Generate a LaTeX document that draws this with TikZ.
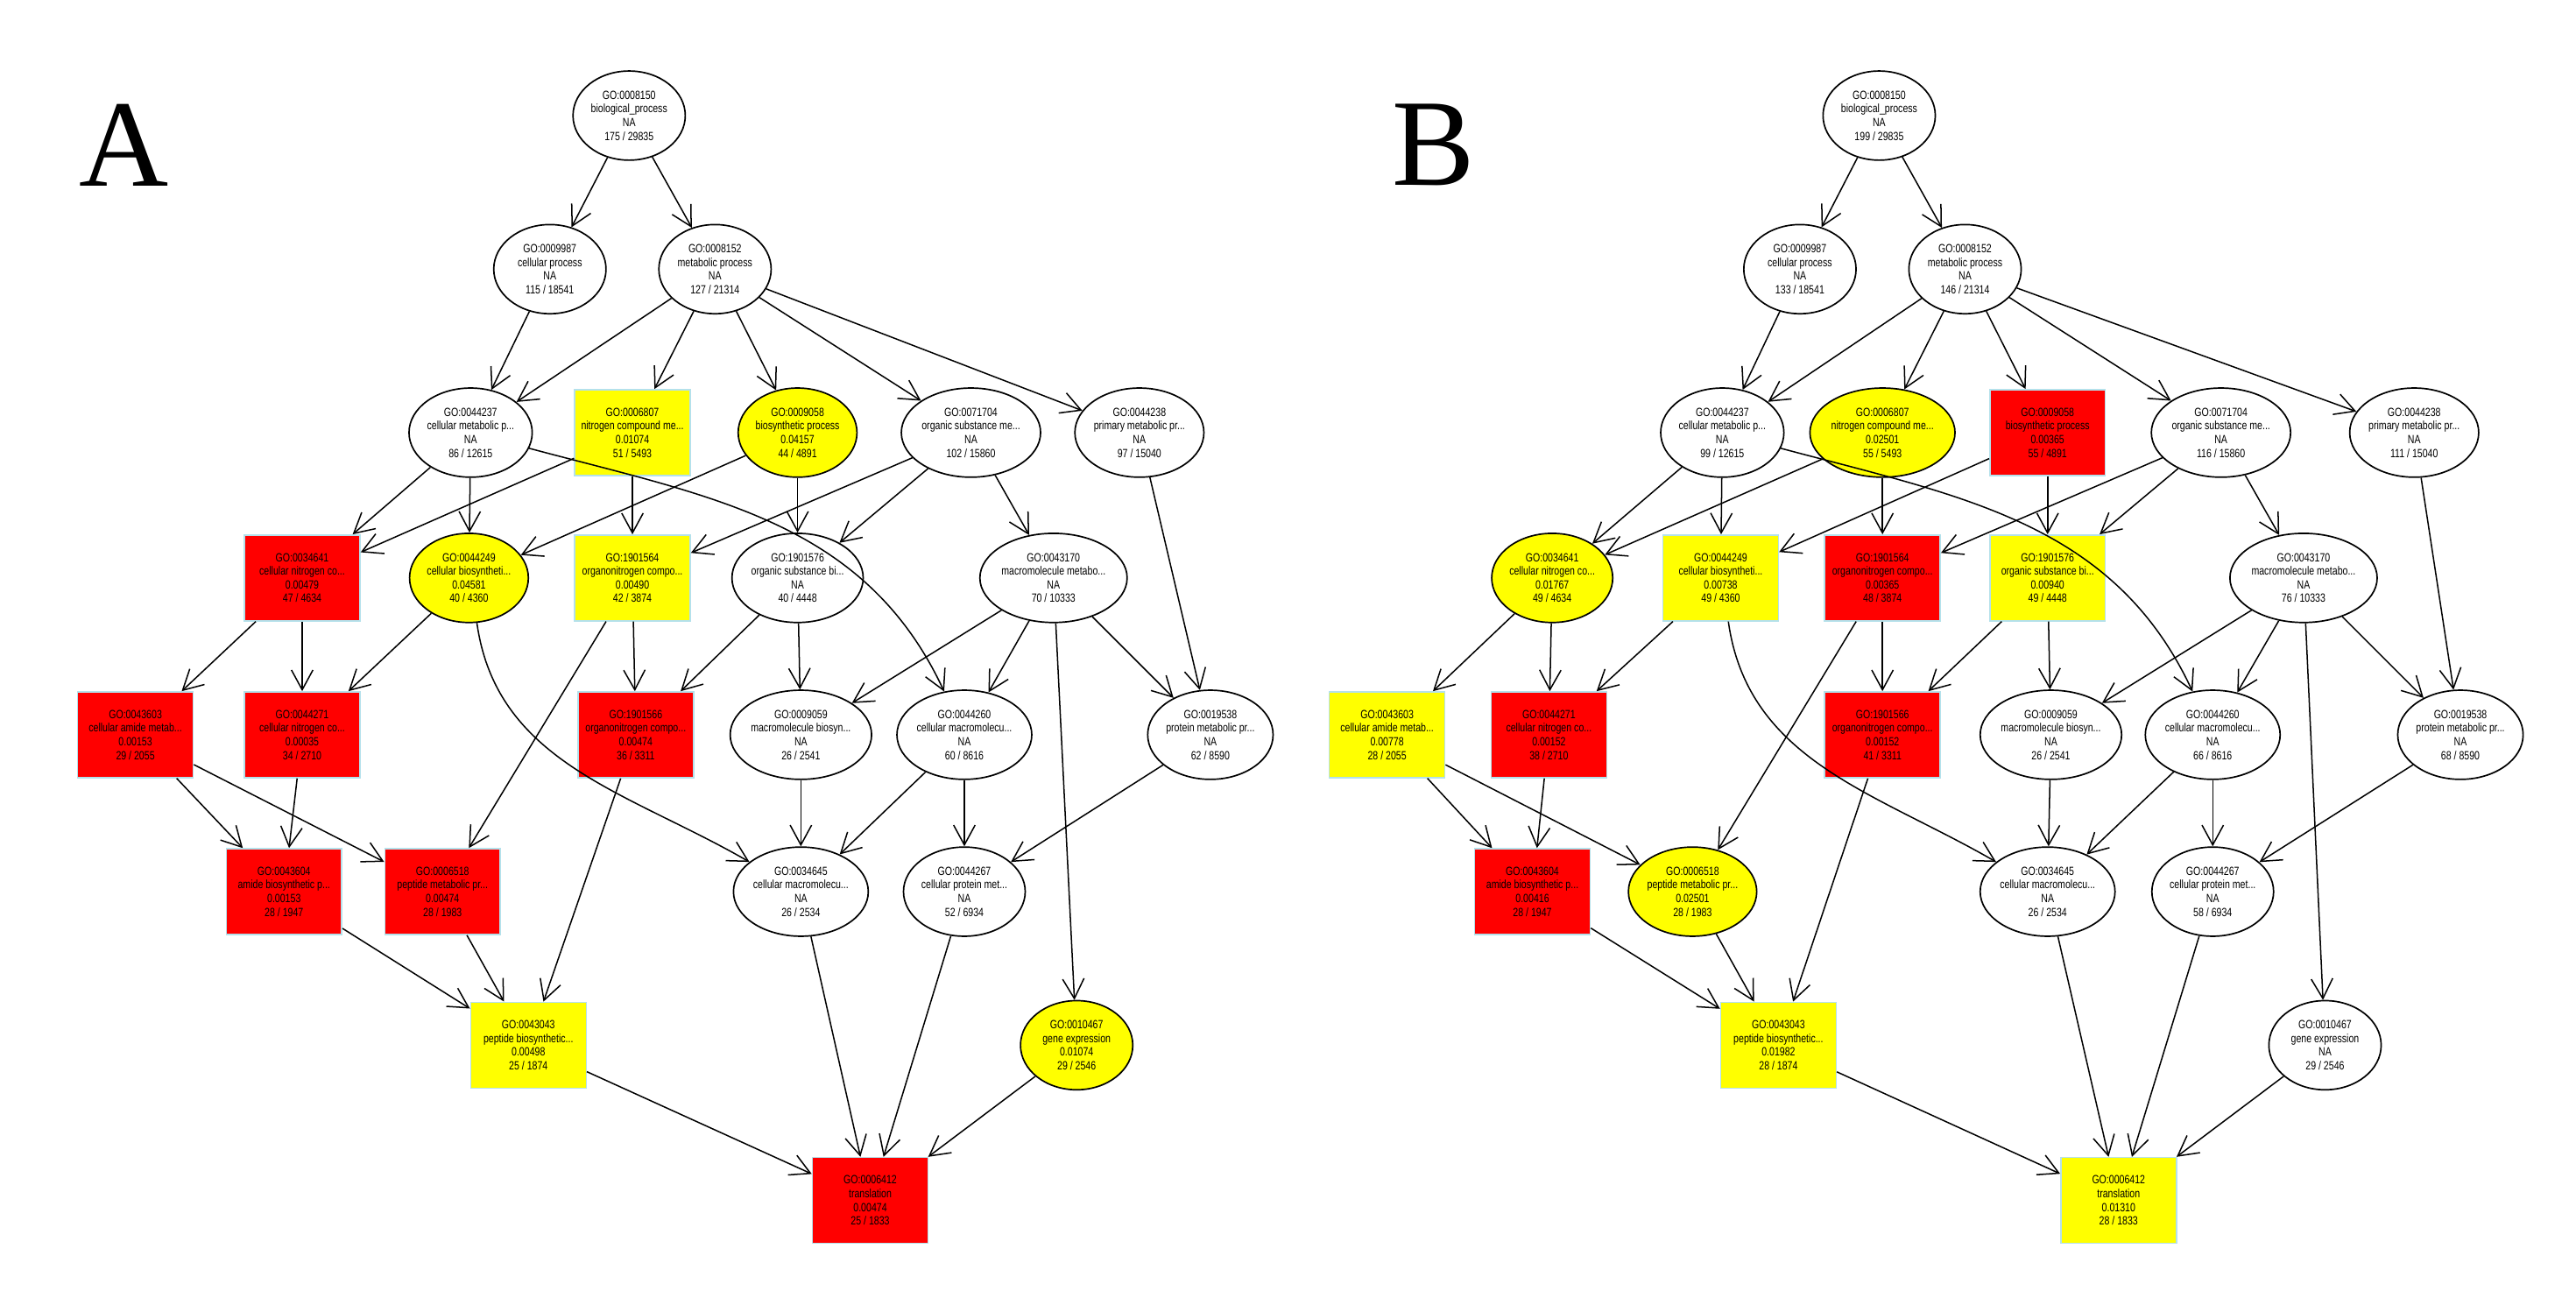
\documentclass[tikz,border=0pt]{standalone}
\usepackage{fontspec}
\setmainfont{Liberation Serif}
\newfontfamily\nf{Liberation Sans}[FakeStretch=0.78]
\usetikzlibrary{arrows.meta,shapes.geometric}
\definecolor{gy}{RGB}{255,255,0}
\definecolor{gr}{RGB}{255,0,0}
\definecolor{bl}{RGB}{180,225,235}
\tikzset{
 txt/.style={font=\nf\fontsize{7.2}{8.3}\selectfont,align=center,inner sep=0pt},
 ell/.style={txt,ellipse,draw=black,line width=0.9pt,minimum width=68pt,minimum height=54pt,fill=white},
 ellY/.style={ell,fill=gy},
 box/.style={txt,rectangle,draw=bl,line width=0.8pt,minimum width=70pt,minimum height=52pt},
 boxY/.style={box,fill=gy},
 boxR/.style={box,fill=gr},
 e/.style={-{Straight Barb[length=12pt,width=13pt,line width=0.8pt]},line width=0.8pt,black},
 lab/.style={font=\fontsize{75}{75}\selectfont,inner sep=0pt}
}
\newcommand{\gn}[8]{\node[#4] (#1) at (#2,#3) {#5\\#6\\#7\\#8};}
\newcommand{\edges}[1]{
 \draw[e] (#1a) -- (#1b); \draw[e] (#1a) -- (#1c);
 \draw[e] (#1b) -- (#1d);
 \draw[e] (#1c) -- (#1d); \draw[e] (#1c) -- (#1f); \draw[e] (#1c) -- (#1g); \draw[e] (#1c) -- (#1h); \draw[e] (#1c) -- (#1i);
 \draw[e] (#1d) -- (#1j); \draw[e] (#1d) -- (#1k);
 \draw[e] (#1d.-15) to[out=-15,in=115] (#1r);
 \draw[e] (#1f) -- (#1j); \draw[e] (#1f) -- (#1l);
 \draw[e] (#1g) -- (#1k); \draw[e] (#1g) -- (#1m);
 \draw[e] (#1h) -- (#1l); \draw[e] (#1h) -- (#1m); \draw[e] (#1h) -- (#1n);
 \draw[e] (#1i) -- (#1s);
 \draw[e] (#1j) -- (#1o); \draw[e] (#1j) -- (#1p);
 \draw[e] (#1k) -- (#1p);
 \draw[e] (#1k.-80) to[out=-82,in=150] (#1w);
 \draw[e] (#1l) -- (#1v); \draw[e] (#1l) -- (#1q);
 \draw[e] (#1m) -- (#1q); \draw[e] (#1m) -- (#1t);
 \draw[e] (#1n) -- (#1t); \draw[e] (#1n) -- (#1r); \draw[e] (#1n) -- (#1s); \draw[e] (#1n) -- (#1z);
 \draw[e] (#1o) -- (#1u); \draw[e] (#1o) -- (#1v);
 \draw[e] (#1p) -- (#1u);
 \draw[e] (#1q) -- (#1y);
 \draw[e] (#1t) -- (#1w); \draw[e] (#1r) -- (#1w); \draw[e] (#1r) -- (#1x); \draw[e] (#1s) -- (#1x);
 \draw[e] (#1u) -- (#1y); \draw[e] (#1v) -- (#1y);
 \draw[e] (#1y) -- (#1fin); \draw[e] (#1w) -- (#1fin); \draw[e] (#1x) -- (#1fin); \draw[e] (#1z) -- (#1fin);
}
\begin{document}
\begin{tikzpicture}[x=1pt,y=-1pt]
\useasboundingbox[fill=white] (0,0) rectangle (1560,790);
\node[lab] (LA) at (75,88) {A};
\node[lab] (LB) at (868,88) {B};
% ---------- Panel A
\gn{Aa}{381}{70}{ell}{GO:0008150}{biological\_process}{NA}{175 / 29835}
\gn{Ab}{333}{163}{ell}{GO:0009987}{cellular process}{NA}{115 / 18541}
\gn{Ac}{433}{163}{ell}{GO:0008152}{metabolic process}{NA}{127 / 21314}
\gn{Ad}{285}{262}{ell}{GO:0044237}{cellular metabolic p...}{NA}{86 / 12615}
\gn{Af}{383}{262}{boxY}{GO:0006807}{nitrogen compound me...}{0.01074}{51 / 5493}
\gn{Ag}{483}{262}{ellY}{GO:0009058}{biosynthetic process}{0.04157}{44 / 4891}
\gn{Ah}{588}{262}{ell}{GO:0071704}{organic substance me...}{NA}{102 / 15860}
\gn{Ai}{690}{262}{ell}{GO:0044238}{primary metabolic pr...}{NA}{97 / 15040}
\gn{Aj}{183}{350}{boxR}{GO:0034641}{cellular nitrogen co...}{0.00479}{47 / 4634}
\gn{Ak}{284}{350}{ellY}{GO:0044249}{cellular biosyntheti...}{0.04581}{40 / 4360}
\gn{Al}{383}{350}{boxY}{GO:1901564}{organonitrogen compo...}{0.00490}{42 / 3874}
\gn{Am}{483}{350}{ell}{GO:1901576}{organic substance bi...}{NA}{40 / 4448}
\gn{An}{638}{350}{ell}{GO:0043170}{macromolecule metabo...}{NA}{70 / 10333}
\gn{Ao}{82}{445}{boxR}{GO:0043603}{cellular amide metab...}{0.00153}{29 / 2055}
\gn{Ap}{183}{445}{boxR}{GO:0044271}{cellular nitrogen co...}{0.00035}{34 / 2710}
\gn{Aq}{385}{445}{boxR}{GO:1901566}{organonitrogen compo...}{0.00474}{36 / 3311}
\gn{At}{485}{445}{ell}{GO:0009059}{macromolecule biosyn...}{NA}{26 / 2541}
\gn{Ar}{584}{445}{ell}{GO:0044260}{cellular macromolecu...}{NA}{60 / 8616}
\gn{As}{733}{445}{ell}{GO:0019538}{protein metabolic pr...}{NA}{62 / 8590}
\gn{Au}{172}{540}{boxR}{GO:0043604}{amide biosynthetic p...}{0.00153}{28 / 1947}
\gn{Av}{268}{540}{boxR}{GO:0006518}{peptide metabolic pr...}{0.00474}{28 / 1983}
\gn{Aw}{485}{540}{ell}{GO:0034645}{cellular macromolecu...}{NA}{26 / 2534}
\gn{Ax}{584}{540}{ell}{GO:0044267}{cellular protein met...}{NA}{52 / 6934}
\gn{Ay}{320}{633}{boxY}{GO:0043043}{peptide biosynthetic...}{0.00498}{25 / 1874}
\gn{Az}{652}{633}{ellY}{GO:0010467}{gene expression}{0.01074}{29 / 2546}
\gn{Afin}{527}{727}{boxR}{GO:0006412}{translation}{0.00474}{25 / 1833}
\edges{A}
% ---------- Panel B
\gn{Ba}{1138}{70}{ell}{GO:0008150}{biological\_process}{NA}{199 / 29835}
\gn{Bb}{1090}{163}{ell}{GO:0009987}{cellular process}{NA}{133 / 18541}
\gn{Bc}{1190}{163}{ell}{GO:0008152}{metabolic process}{NA}{146 / 21314}
\gn{Bd}{1043}{262}{ell}{GO:0044237}{cellular metabolic p...}{NA}{99 / 12615}
\gn{Bf}{1140}{262}{ellY}{GO:0006807}{nitrogen compound me...}{0.02501}{55 / 5493}
\gn{Bg}{1240}{262}{boxR}{GO:0009058}{biosynthetic process}{0.00365}{55 / 4891}
\gn{Bh}{1345}{262}{ell}{GO:0071704}{organic substance me...}{NA}{116 / 15860}
\gn{Bi}{1462}{262}{ell}{GO:0044238}{primary metabolic pr...}{NA}{111 / 15040}
\gn{Bj}{940}{350}{ellY}{GO:0034641}{cellular nitrogen co...}{0.01767}{49 / 4634}
\gn{Bk}{1042}{350}{boxY}{GO:0044249}{cellular biosyntheti...}{0.00738}{49 / 4360}
\gn{Bl}{1140}{350}{boxR}{GO:1901564}{organonitrogen compo...}{0.00365}{48 / 3874}
\gn{Bm}{1240}{350}{boxY}{GO:1901576}{organic substance bi...}{0.00940}{49 / 4448}
\gn{Bn}{1395}{350}{ell}{GO:0043170}{macromolecule metabo...}{NA}{76 / 10333}
\gn{Bo}{840}{445}{boxY}{GO:0043603}{cellular amide metab...}{0.00778}{28 / 2055}
\gn{Bp}{938}{445}{boxR}{GO:0044271}{cellular nitrogen co...}{0.00152}{38 / 2710}
\gn{Bq}{1140}{445}{boxR}{GO:1901566}{organonitrogen compo...}{0.00152}{41 / 3311}
\gn{Bt}{1242}{445}{ell}{GO:0009059}{macromolecule biosyn...}{NA}{26 / 2541}
\gn{Br}{1340}{445}{ell}{GO:0044260}{cellular macromolecu...}{NA}{66 / 8616}
\gn{Bs}{1490}{445}{ell}{GO:0019538}{protein metabolic pr...}{NA}{68 / 8590}
\gn{Bu}{928}{540}{boxR}{GO:0043604}{amide biosynthetic p...}{0.00416}{28 / 1947}
\gn{Bv}{1025}{540}{ellY}{GO:0006518}{peptide metabolic pr...}{0.02501}{28 / 1983}
\gn{Bw}{1240}{540}{ell}{GO:0034645}{cellular macromolecu...}{NA}{26 / 2534}
\gn{Bx}{1340}{540}{ell}{GO:0044267}{cellular protein met...}{NA}{58 / 6934}
\gn{By}{1077}{633}{boxY}{GO:0043043}{peptide biosynthetic...}{0.01982}{28 / 1874}
\gn{Bz}{1408}{633}{ell}{GO:0010467}{gene expression}{NA}{29 / 2546}
\gn{Bfin}{1283}{727}{boxY}{GO:0006412}{translation}{0.01310}{28 / 1833}
\edges{B}
\end{tikzpicture}
\end{document}
